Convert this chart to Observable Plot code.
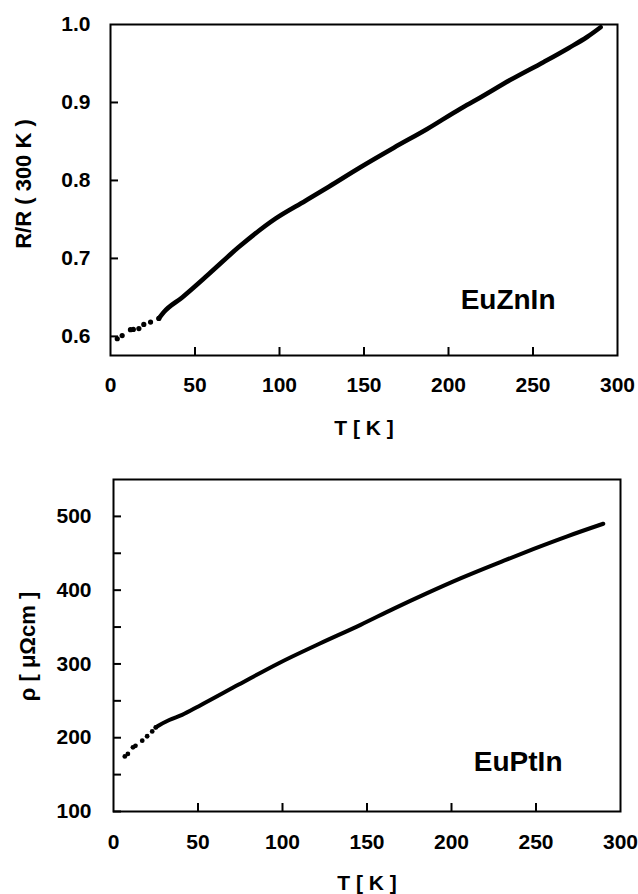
<!DOCTYPE html>
<html><head><meta charset="utf-8">
<script src="https://cdn.jsdelivr.net/npm/d3@7"></script>
<script src="https://cdn.jsdelivr.net/npm/@observablehq/plot@0.6"></script>
<style>
body{margin:0;background:#fff;}
#chart svg{display:block;}
</style></head><body><div id="chart"></div>
<script>
// axis ticks
const xTickLabels = [0, 50, 100, 150, 200, 250, 300];
const xTickMarks = [50, 100, 150, 200, 250];
const topYTickLabels = [0.6, 0.7, 0.8, 0.9, 1.0];
const topYTickMarks = [0.6, 0.7, 0.8, 0.9];
const bottomYTickLabels = [100, 200, 300, 400, 500];
const bottomYMinorTicks = [150, 250, 350, 450];

// EuZnIn: R/R(300 K) vs T
const znSparseT = [4.0, 6.9, 11.8, 13.5, 16.8, 19.7, 23.7, 28.6];
const znSparseR = [0.597, 0.601, 0.6086, 0.609, 0.610, 0.6154, 0.6184, 0.623];
const znT = [28.6, 31.5, 42.4, 58.2, 75.9, 97.6, 115.4, 129.2, 147.9, 167.7, 187.4, 207.1, 217, 236.7, 256.4, 271.2, 282, 290];
const znR = [0.623, 0.631, 0.650, 0.680, 0.7145, 0.751, 0.774, 0.792, 0.817, 0.842, 0.866, 0.892, 0.904, 0.929, 0.952, 0.970, 0.984, 0.9965];

// EuPtIn: rho vs T
const ptSparseT = [6.7, 8.5, 11.5, 13.0, 17.0, 19.9, 22.9, 25.0];
const ptSparseRho = [174.6, 178, 187, 189, 196, 202, 208.5, 214];
const ptT = [25.0, 26.8, 33, 40.6, 50.5, 74.1, 97.8, 121.5, 146.2, 165.9, 185.6, 205.3, 231, 248.7, 268.5, 289.8];
const ptRho = [214, 216.6, 224, 231, 242.8, 272, 301, 327, 353, 375, 396, 416, 440, 456, 473, 490];

const font = "'Liberation Sans', Arial, Helvetica, sans-serif";
const baseStyle = {fontFamily: font, fontSize: "21px", fontWeight: "bold", color: "black", background: "white", overflow: "visible"};

const znSparse = znSparseT.map((t, i) => ({T: t, v: znSparseR[i]}));
const znLine = znT.map((t, i) => ({T: t, v: znR[i]}));
const ptSparse = ptSparseT.map((t, i) => ({T: t, v: ptSparseRho[i]}));
const ptLine = ptT.map((t, i) => ({T: t, v: ptRho[i]}));

const topChart = Plot.plot({
  width: 638, height: 445,
  marginTop: 24, marginBottom: 90, marginLeft: 110, marginRight: 21,
  style: baseStyle,
  x: {domain: [0, 300], label: null},
  y: {domain: [0.5755, 1.0], label: null},
  marks: [
    Plot.frame({stroke: "black", strokeWidth: 2}),
    Plot.axisX({ticks: xTickLabels, tickSize: 0, tickPadding: 22, tickFormat: d => String(d), label: null}),
    Plot.axisX({ticks: xTickMarks, tickSize: -8, strokeWidth: 2, tickFormat: () => "", label: null}),
    Plot.axisY({ticks: topYTickLabels, tickSize: 0, tickPadding: 20, tickFormat: d3.format(".1f"), label: null}),
    Plot.axisY({ticks: topYTickMarks, tickSize: -8, strokeWidth: 2, tickFormat: () => "", label: null}),
    Plot.line(znLine, {x: "T", y: "v", stroke: "black", strokeWidth: 4.6, strokeLinecap: "round", curve: "monotone-x"}),
    Plot.dot(znSparse, {x: "T", y: "v", r: 2.6, fill: "black", stroke: "none"}),
    Plot.text(["EuZnIn"], {frameAnchor: "bottom-right", textAnchor: "end", lineAnchor: "middle", dx: -62, dy: -55, fontSize: 28, fontWeight: "bold"}),
    Plot.text(["T [ K ]"], {frameAnchor: "bottom", textAnchor: "middle", lineAnchor: "middle", dy: 73, fontSize: 21, fontWeight: "bold"}),
    Plot.text(["R/R ( 300 K )"], {frameAnchor: "left", textAnchor: "middle", rotate: -90, lineAnchor: "middle", dx: -87, dy: -6, fontSize: 22, fontWeight: "bold"})
  ]
});

const bottomChart = Plot.plot({
  width: 638, height: 449,
  marginTop: 34, marginBottom: 83, marginLeft: 113, marginRight: 18,
  style: baseStyle,
  x: {domain: [0, 300], label: null},
  y: {domain: [100, 550], label: null},
  marks: [
    Plot.frame({stroke: "black", strokeWidth: 2}),
    Plot.axisX({ticks: xTickLabels, tickSize: 0, tickPadding: 23, tickFormat: d => String(d), label: null}),
    Plot.axisX({ticks: xTickMarks, tickSize: -8, strokeWidth: 2, tickFormat: () => "", label: null}),
    Plot.axisY({ticks: bottomYTickLabels, tickSize: 0, tickPadding: 22, tickFormat: d => String(d), label: null}),
    Plot.axisY({ticks: bottomYTickLabels.concat(bottomYMinorTicks), tickSize: -8, strokeWidth: 2, tickFormat: () => "", label: null}),
    Plot.line(ptLine, {x: "T", y: "v", stroke: "black", strokeWidth: 4, strokeLinecap: "round", curve: "monotone-x"}),
    Plot.dot(ptSparse, {x: "T", y: "v", r: 2.4, fill: "black", stroke: "none"}),
    Plot.text(["EuPtIn"], {frameAnchor: "bottom-right", textAnchor: "end", lineAnchor: "middle", dx: -58, dy: -49, fontSize: 28, fontWeight: "bold"}),
    Plot.text(["T [ K ]"], {frameAnchor: "bottom", textAnchor: "middle", lineAnchor: "middle", dy: 72, fontSize: 21, fontWeight: "bold"}),
    Plot.text(["ρ [ μΩcm ]"], {frameAnchor: "left", textAnchor: "middle", rotate: -90, lineAnchor: "middle", dx: -86, dy: 1, fontSize: 22, fontWeight: "bold"})
  ]
});

document.getElementById("chart").append(topChart, bottomChart);
</script>
</body></html>
